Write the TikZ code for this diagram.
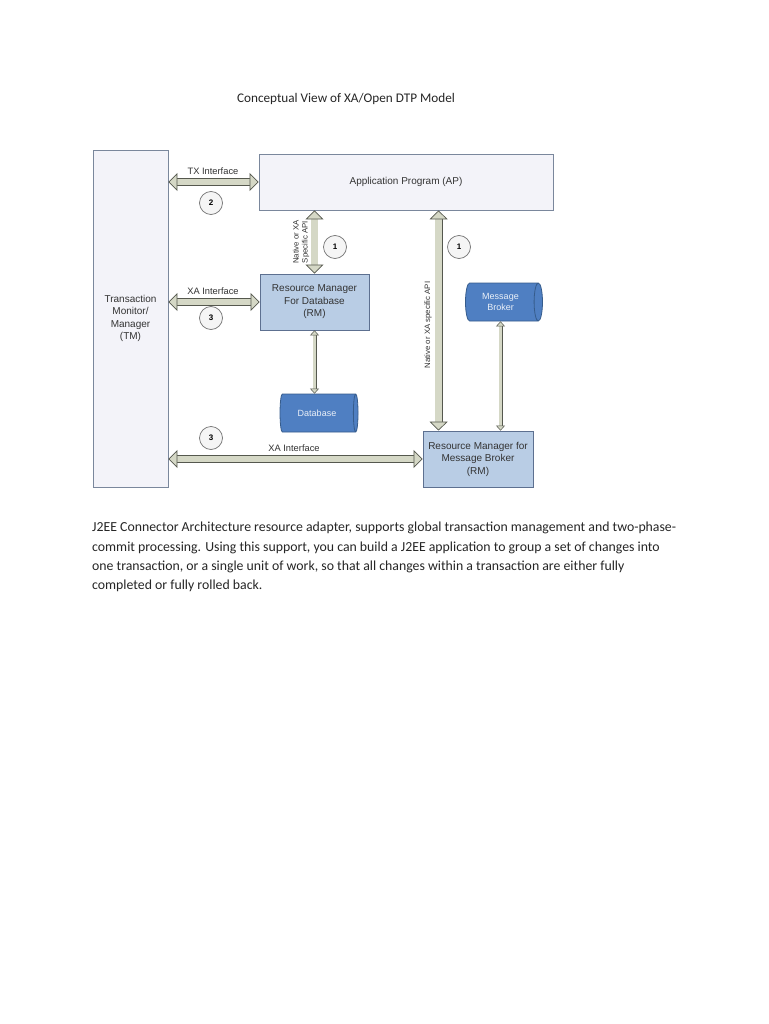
\documentclass[tikz,border=0pt]{standalone}
\usepackage{fontspec}
\setmainfont{Carlito}
\setsansfont{Liberation Sans}
\usetikzlibrary{arrows.meta,shapes.geometric}
\definecolor{panelfill}{HTML}{F3F3F9}
\definecolor{paneledge}{HTML}{7A879C}
\definecolor{rmfill}{HTML}{B9CDE5}
\definecolor{rmedge}{HTML}{5D7090}
\definecolor{cylfill}{HTML}{4F7FC2}
\definecolor{cyledge}{HTML}{365C8C}
\definecolor{arrowfill}{HTML}{D5D8C6}
\definecolor{arrowedge}{HTML}{55584E}
\definecolor{labeltext}{HTML}{333333}
\tikzset{
  panel/.style={draw=paneledge, fill=panelfill, line width=0.8pt, align=center,
    font=\sffamily\fontsize{10}{12.5}\selectfont, text=labeltext},
  rmbox/.style={panel, draw=rmedge, fill=rmfill},
  store/.style={cylinder, draw=cyledge, line width=0.8pt, fill=cylfill, aspect=0.35,
    align=center, text=white!88!cylfill, font=\sffamily\fontsize{9}{11}\selectfont},
  badge/.style={circle, draw=black!55, fill=black!4, line width=0.7pt, minimum size=23pt,
    inner sep=0pt, font=\sffamily\bfseries\fontsize{8}{9}\selectfont},
  tag/.style={font=\sffamily\fontsize{9.3}{11}\selectfont, text=labeltext, inner sep=0pt},
  sidetag/.style={font=\sffamily\fontsize{7.8}{9}\selectfont, text=labeltext, inner sep=0pt,
    align=center, rotate=90},
  fat/.style={draw=arrowedge, line width=0.7pt, double=arrowfill, double distance=6.5pt,
    {Triangle[length=9pt,width=18pt,line width=0.7pt,fill=arrowfill]}-{Triangle[length=9pt,width=18pt,line width=0.7pt,fill=arrowfill]}},
  thin/.style={draw=arrowedge, line width=0.5pt, double=arrowfill, double distance=3pt,
    {Triangle[length=5pt,width=9pt,line width=0.5pt,fill=arrowfill]}-{Triangle[length=5pt,width=9pt,line width=0.5pt,fill=arrowfill]}}
}
\begin{document}
\begin{tikzpicture}[x=1pt, y=-1pt]
  \useasboundingbox[fill=white] (0,0) rectangle (768,1024);

  \node[font=\fontsize{13.2}{16}\selectfont, text=black!85] (title) at (346,99) {Conceptual View of XA/Open DTP Model};

  \node[panel, minimum width=75pt, minimum height=337pt] (tm) at (130.5,318.5) {Transaction\\Monitor/\\Manager\\(TM)};
  \node[panel, minimum width=294pt, minimum height=56pt] (ap) at (406,182) {Application Program (AP)};
  \node[rmbox, minimum width=109pt, minimum height=56pt] (rmdb) at (314.5,302) {Resource Manager\\For Database\\(RM)};
  \node[rmbox, minimum width=110pt, minimum height=56pt] (rmmb) at (478,459) {Resource Manager for\\Message Broker\\(RM)};
  \node[store, minimum width=38pt, minimum height=78pt] (db) at (317,413) {Database};
  \node[store, minimum width=38pt, minimum height=77pt] (mb) at (500.5,302) {Message\\Broker};

  \coordinate (mbapi) at ([xshift=16pt]rmmb.north west);

  \draw[fat] (tm.east |- ap.west) -- (ap.west);
  \draw[fat] (tm.east |- rmdb.west) -- (rmdb.west);
  \draw[fat] (tm.east |- rmmb.west) -- (rmmb.west);
  \draw[fat] (rmdb.north |- ap.south) -- (rmdb.north);
  \draw[fat] (mbapi |- ap.south) -- (mbapi);
  \draw[thin] (rmdb.south) -- (rmdb.south |- db.north);
  \draw[thin] (mb.south) -- (mb.south |- rmmb.north);

  \node[tag] (txlab) at (213,171) {TX Interface};
  \node[tag] (xalab1) at (213,291) {XA Interface};
  \node[tag] (xalab2) at (294,448) {XA Interface};
  \node[sidetag] (apilab1) at (301,242) {Native or XA\\Specific API};
  \node[sidetag] (apilab2) at (428,325) {Native or XA specific API};

  \node[badge] (two) at (211,203) {2};
  \node[badge] (oneA) at (335,247) {1};
  \node[badge] (oneB) at (459,247) {1};
  \node[badge] (threeA) at (211,318) {3};
  \node[badge] (threeB) at (211,438) {3};

  \node[anchor=north west, align=left, inner sep=0pt, font=\fontsize{13.8}{19.4}\selectfont, text=black!85] (note) at (92,522)
    {J2EE Connector Architecture resource adapter, supports global transaction management and two-phase-\\
     commit processing. Using this support, you can build a J2EE application to group a set of changes into\\
     one transaction, or a single unit of work, so that all changes within a transaction are either fully\\
     completed or fully rolled back.};
\end{tikzpicture}
\end{document}
